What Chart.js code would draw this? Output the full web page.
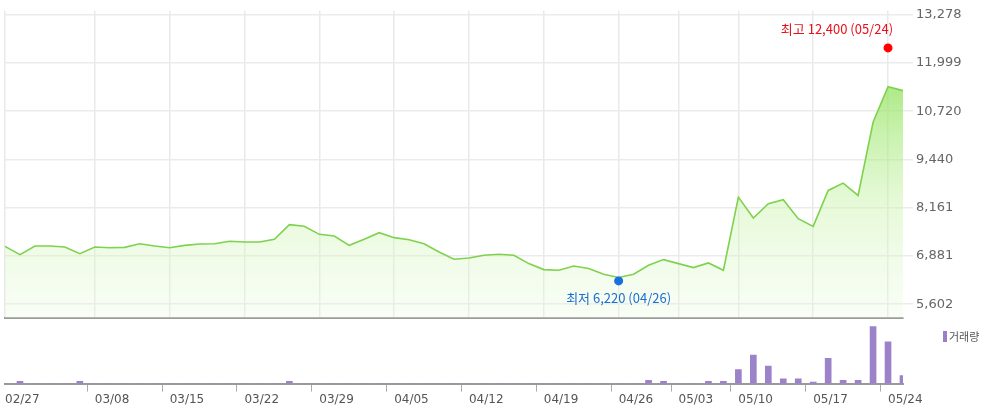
<!DOCTYPE html>
<html><head><meta charset="utf-8">
<script src="https://cdn.jsdelivr.net/npm/chart.js@4"></script>
<style>
html,body{margin:0;padding:0;background:#fff;width:992px;height:411px;overflow:hidden}
#c1{position:absolute;left:0;top:0}
#c2{position:absolute;left:0;top:320px}
</style></head><body>
<canvas id="c1" width="992" height="329"></canvas>
<canvas id="c2" width="992" height="91"></canvas>
<script>
const dates=["02/27","02/28","03/02","03/03","03/04","03/05","03/08","03/09","03/10","03/11","03/12","03/15","03/16","03/17","03/18","03/19","03/22","03/23","03/24","03/25","03/26","03/29","03/30","03/31","04/01","04/02","04/05","04/06","04/07","04/08","04/09","04/12","04/13","04/14","04/15","04/16","04/19","04/20","04/21","04/22","04/23","04/26","04/27","04/28","04/29","05/03","05/04","05/06","05/07","05/10","05/11","05/12","05/13","05/14","05/17","05/18","05/19","05/20","05/21","05/24","05/25"];
const weekLabels=["02/27","03/08","03/15","03/22","03/29","04/05","04/12","04/19","04/26","05/03","05/10","05/17","05/24"];
const prices=[7137,6918,7145,7145,7119,6944,7119,7101,7110,7207,7145,7101,7163,7198,7207,7270,7252,7252,7323,7712,7668,7455,7411,7163,7323,7500,7367,7314,7207,6987,6793,6828,6900,6926,6900,6679,6520,6502,6616,6547,6396,6309,6396,6634,6785,6679,6573,6696,6502,8443,7888,8267,8373,7870,7667,8620,8813,8487,10428,11372,11267];
const volumes=[0,2,0,0,0,2,0,0,0,0,0,0,0,0,0,0,0,0,0,2,0,0,0,0,0,0,0,0,0,0,0,0,0,0,0,0,0,0,0,0,0,0,0,3,2,0,0,2,2,12.7,26,16,4.3,4.3,1.3,23,3,3,52,38,7.3];
const yTicks=[5602,6881,8161,9440,10720,11999,13278];
const high={idx:59,value:12400,label:"최고 12,400 (05/24)"};
const low={idx:41,value:6220,label:"최저 6,220 (04/26)"};

const FONT='"Noto Sans CJK KR","DejaVu Sans",sans-serif';
const isWeek=i=>weekLabels.includes(dates[i]);

const annot={id:'annot',afterDatasetsDraw(ch){
  const c=ch.ctx,x=ch.scales.x,y=ch.scales.y;
  c.save();
  c.font='13px '+FONT;c.textBaseline='middle';
  let hx=x.getPixelForValue(high.idx),hy=y.getPixelForValue(high.value);
  c.fillStyle='#ff0000';c.beginPath();c.arc(hx,hy,4.5,0,Math.PI*2);c.fill();
  c.fillStyle='#e8101a';c.textAlign='right';c.fillText(high.label,hx+5,hy-19);
  let lx=x.getPixelForValue(low.idx),ly=y.getPixelForValue(low.value);
  c.fillStyle='#1a6fe0';c.beginPath();c.arc(lx,ly,4.5,0,Math.PI*2);c.fill();
  c.fillStyle='#1a6fd0';c.textAlign='center';c.fillText(low.label,lx,ly+17);
  c.restore();
}};

new Chart(document.getElementById('c1'),{
  type:'line',
  data:{labels:dates,datasets:[{data:prices,borderColor:'#7ed24e',borderWidth:1.6,pointRadius:0,tension:0,fill:true,
    backgroundColor:(ctx)=>{const a=ctx.chart.chartArea;if(!a)return 'rgba(180,240,140,0.5)';
      const g=ctx.chart.ctx.createLinearGradient(0,a.top+80,0,a.bottom);
      g.addColorStop(0,'rgba(150,228,100,0.75)');g.addColorStop(0.5,'rgba(200,243,170,0.45)');g.addColorStop(1,'rgba(235,250,225,0.3)');return g;}}]},
  options:{responsive:false,animation:false,plugins:{legend:{display:false},tooltip:{enabled:false}},
    layout:{padding:{left:5,top:0,right:0,bottom:0}},
    scales:{
      x:{offset:false,ticks:{display:false},grid:{drawTicks:false,color:c=>isWeek(c.index)?'#e9e9e9':'rgba(0,0,0,0)',lineWidth:1.5},border:{color:'#9a9a9a',width:2}},
      y:{position:'right',min:5231,max:13384,afterBuildTicks:s=>{s.ticks=yTicks.map(v=>({value:v}));},
        afterFit:s=>{s.width=89;},
        ticks:{color:'#666',font:{size:13,family:'"DejaVu Sans",sans-serif'},padding:3,callback:v=>v.toLocaleString('en-US')},
        grid:{color:'#ebebeb',lineWidth:1.5,tickLength:10},border:{display:false}}
    }},
  plugins:[annot]
});

const legendP={id:'leg',afterDraw(ch){const c=ch.ctx;c.save();c.fillStyle='#9a7fc8';c.fillRect(943,11,4,11);
  c.fillStyle='#555';c.font='11px '+FONT;c.textBaseline='middle';c.textAlign='left';c.fillText('거래량',949,17);c.restore();}};

new Chart(document.getElementById('c2'),{
  type:'bar',
  data:{labels:dates,datasets:[{data:volumes,backgroundColor:'#9b82c9',barThickness:6}]},
  options:{responsive:false,animation:false,plugins:{legend:{display:false},tooltip:{enabled:false}},
    layout:{padding:{left:5,right:89,top:1,bottom:3}},
    scales:{
      x:{offset:false,grid:{display:true,drawOnChartArea:false,tickLength:8,color:c=>isWeek(c.index)?'#aaa':'rgba(0,0,0,0)'},
        border:{color:'#9a9a9a',width:2},
        ticks:{autoSkip:false,maxRotation:0,align:'start',padding:1,color:'#555',font:{size:12,family:'"DejaVu Sans",sans-serif'},
          callback:function(v,i){return isWeek(i)?dates[i]:'';}}},
      y:{display:false,min:0,max:57}
    }},
  plugins:[legendP]
});
</script></body></html>
